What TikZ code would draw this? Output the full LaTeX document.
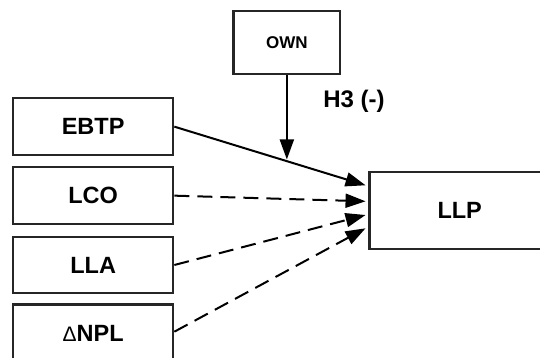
\documentclass[tikz,border=0pt]{standalone}
\usepackage{fontspec}
\setmainfont{Liberation Sans}
\usetikzlibrary{arrows.meta,calc}
\begin{document}
\begin{tikzpicture}[x=1pt,y=-1pt,
  varbox/.style={draw=black!85,line width=2.3pt,fill=white,inner sep=0pt,
    font=\fontsize{23.5}{26}\selectfont\bfseries},
  link/.style={line width=2pt,draw=black,-{Triangle[length=20pt,width=14pt]}},
  dashlink/.style={link,dash pattern=on 15pt off 8pt}]
\useasboundingbox (0,0) rectangle (540,357);
\fill[white] (0,0) rectangle (540,357);
\node[varbox,minimum width=106.7pt,minimum height=63.3pt,
  font=\fontsize{17}{19}\selectfont\bfseries] (own) at (286.85,42.35) {OWN};
\node[varbox,minimum width=160.1pt,minimum height=57.3pt] (ebtp) at (93.15,126.65) {EBTP};
\node[varbox,minimum width=160.1pt,minimum height=56.7pt] (lco) at (93.15,195.65) {LCO};
\node[varbox,minimum width=160.1pt,minimum height=56.6pt] (lla) at (93.15,265) {LLA};
\node[varbox,minimum width=160.1pt,minimum height=57pt] (npl) at (93.15,333)
  {{\mdseries\fontsize{21}{24}\selectfont Δ}NPL};
\node[varbox,minimum width=180.4pt,minimum height=77.3pt] (llp) at (459.7,210.65) {LLP};
\node[font=\fontsize{24}{26}\selectfont\bfseries] (h3) at (354,101.5) {H3 (-)};
\coordinate (t1) at ($(llp.west)+(-2.8,-25.35)$);
\coordinate (t2) at ($(llp.west)+(-2.8,-9.35)$);
\coordinate (t3) at ($(llp.west)+(-2.8,4.35)$);
\coordinate (t4) at ($(llp.west)+(-2.8,17.65)$);
\coordinate (ownTip) at ($(own.south)+(0,84.3)$);
\draw[link] (ebtp.east) -- (t1);
\draw[dashlink] (lco.east) -- (t2);
\draw[dashlink] (lla.east) -- (t3);
\draw[dashlink] ($(npl.east)+(0,-1.3)$) -- (t4);
\draw[link] (own.south) -- (ownTip);
\end{tikzpicture}
\end{document}
